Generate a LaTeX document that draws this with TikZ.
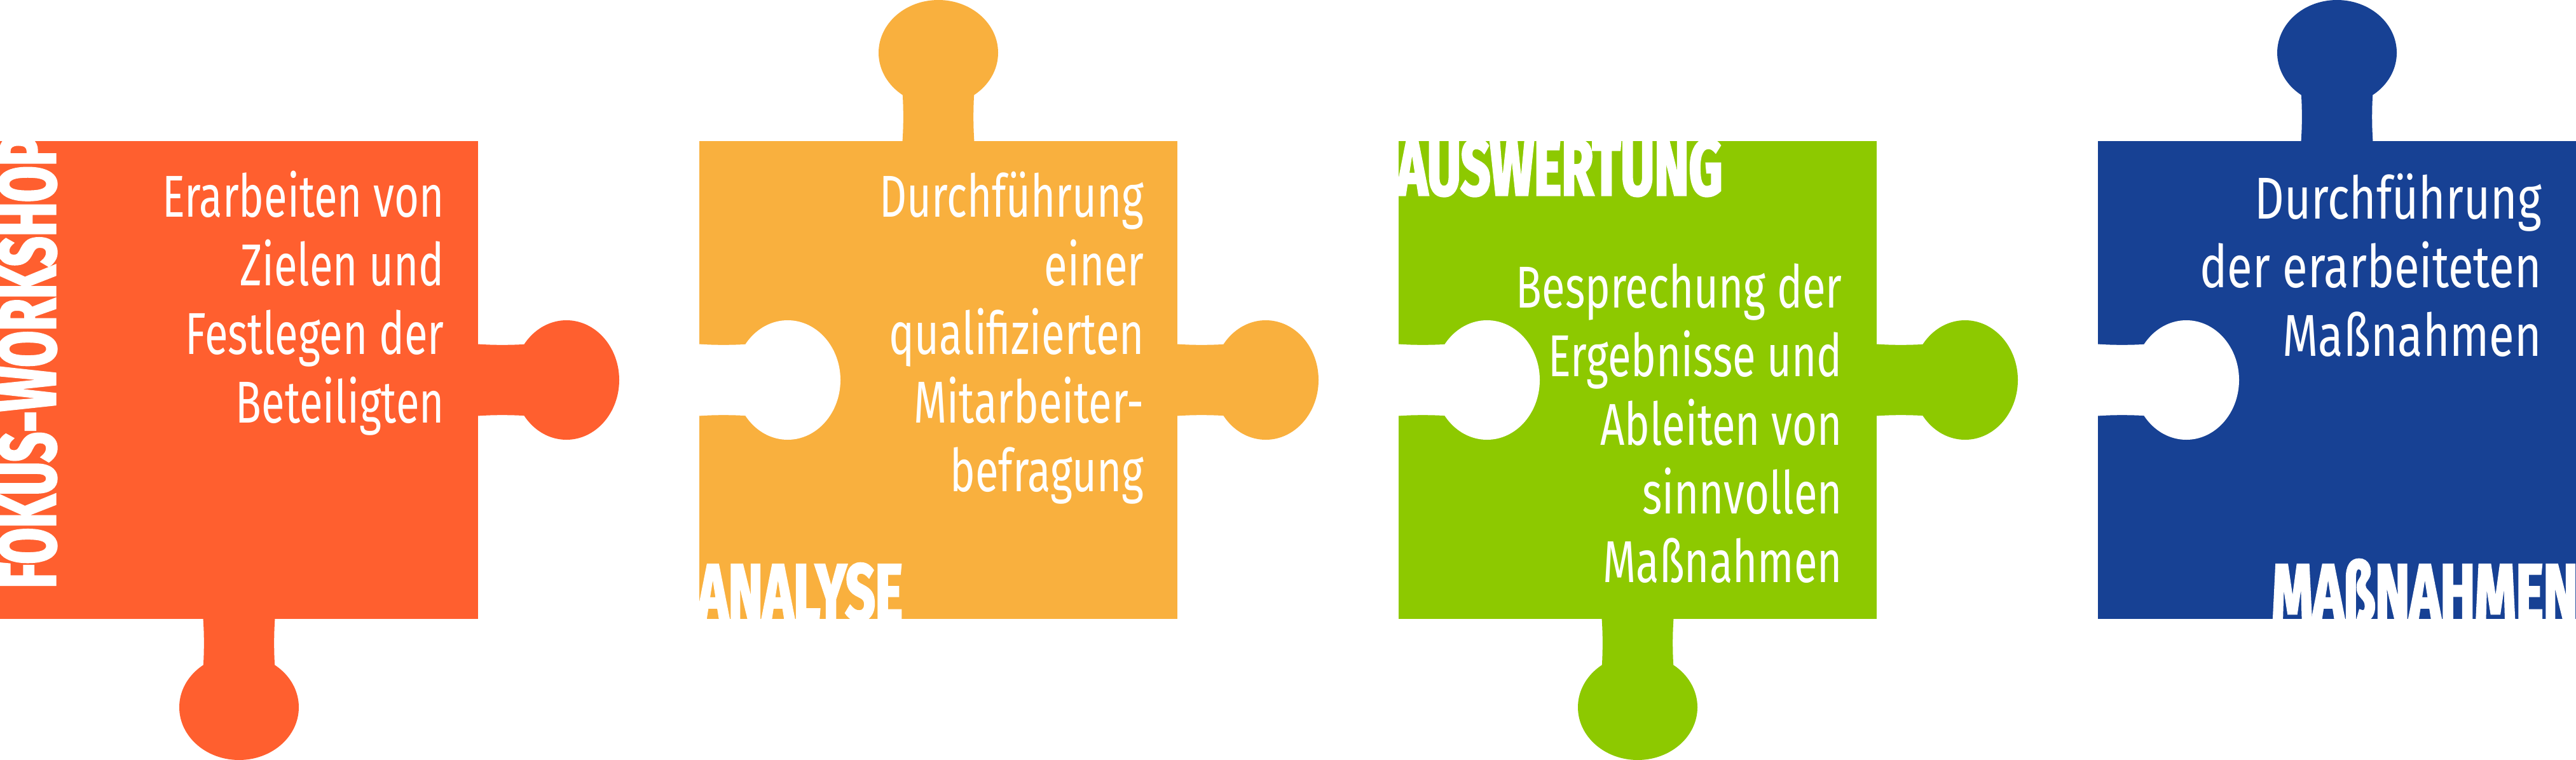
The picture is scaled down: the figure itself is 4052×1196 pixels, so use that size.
\documentclass[tikz,border=0pt]{standalone}
\usepackage{fontspec}
\newfontfamily\bodyfont[FakeStretch=0.72]{Fira Sans}
\newfontfamily\bluefont[FakeStretch=0.78]{Fira Sans}
\newfontfamily\headfont[FakeStretch=0.655,FakeBold=2.5]{Fira Sans}
\definecolor{pOrange}{HTML}{FF5F2F}
\definecolor{pYellow}{HTML}{F9B03E}
\definecolor{pGreen}{HTML}{8DC900}
\definecolor{pBlue}{HTML}{174194}
\newcommand{\puzzletab}[4]{%
  \begin{scope}[shift={(#2,#3)},rotate=#4]
    \fill[#1] (-1,-56.5) .. controls (24,-54.8) and (48,-54.8) .. (74,-56.2)
      -- (74,56.2) .. controls (48,54.8) and (24,54.8) .. (-1,56.5) -- cycle;
    \fill[#1] (139,0) ellipse [x radius=83, y radius=94];
  \end{scope}}
\tikzset{
  bodytxt/.style={anchor=base east, inner sep=0pt, text=white,
    font=\bodyfont\fontsize{93}{108}\selectfont},
  bluetxt/.style={anchor=base east, inner sep=0pt, text=white,
    font=\bluefont\fontsize{93}{108}\selectfont},
  headtxt/.style={inner sep=0pt, text=white,
    font=\headfont\bfseries\fontsize{125}{130}\selectfont}
}
\begin{document}
\begin{tikzpicture}[x=1pt,y=-1pt]
\useasboundingbox (0,0) rectangle (4052,1196);
\fill[white] (0,0) rectangle (4052,1196);
% orange piece
\fill[pOrange] (0,222) rectangle (752,974);
\puzzletab{pOrange}{752}{598}{0}
\puzzletab{pOrange}{376}{974}{-90}
% yellow piece
\fill[pYellow] (1100,222) rectangle (1852,974);
\puzzletab{pYellow}{1476}{222}{90}
\puzzletab{pYellow}{1852}{598}{0}
\puzzletab{white}{1100}{598}{0}
% green piece
\fill[pGreen] (2200,222) rectangle (2952,974);
\puzzletab{pGreen}{2952}{598}{0}
\puzzletab{pGreen}{2576}{974}{-90}
\puzzletab{white}{2200}{598}{0}
% blue piece
\fill[pBlue] (3300,222) rectangle (4052,974);
\puzzletab{pBlue}{3676}{222}{90}
\puzzletab{white}{3300}{598}{0}
% body texts
\node[bodytxt] (t1) at (699,341) {\begin{tabular}[t]{@{}r@{}}Erarbeiten von\\Zielen und\\Festlegen der\\Beteiligten\end{tabular}};
\node[bodytxt] (t2) at (1800,341) {\begin{tabular}[t]{@{}r@{}}Durchführung\\einer\\qualifizierten\\Mitarbeiter-\\befragung\end{tabular}};
\node[bodytxt] (t3) at (2898,484) {\begin{tabular}[t]{@{}r@{}}Besprechung der\\Ergebnisse und\\Ableiten von\\sinnvollen\\Maßnahmen\end{tabular}};
\node[bluetxt] (t4) at (3998,344) {\begin{tabular}[t]{@{}r@{}}Durchführung\\der erarbeiteten\\Maßnahmen\end{tabular}};
% headings
\begin{scope}
  \clip (0,222) rectangle (752,974);
  \node[headtxt, rotate=90, anchor=base west] (h1) at (87,926) {FOKUS-WORKSHOP};
\end{scope}
\begin{scope}
  \clip (1100,222) rectangle (1852,974);
  \node[headtxt, anchor=base west] (h2) at (1097,975) {ANALYSE};
\end{scope}
\begin{scope}
  \clip (2200,222) rectangle (2952,974);
  \node[headtxt, anchor=base west] (h3) at (2197,307) {AUSWERTUNG};
\end{scope}
\begin{scope}
  \clip (3300,222) rectangle (4052,974);
  \node[headtxt, anchor=base east] (h4) at (4055,975) {MAßNAHMEN};
\end{scope}
\end{tikzpicture}
\end{document}
